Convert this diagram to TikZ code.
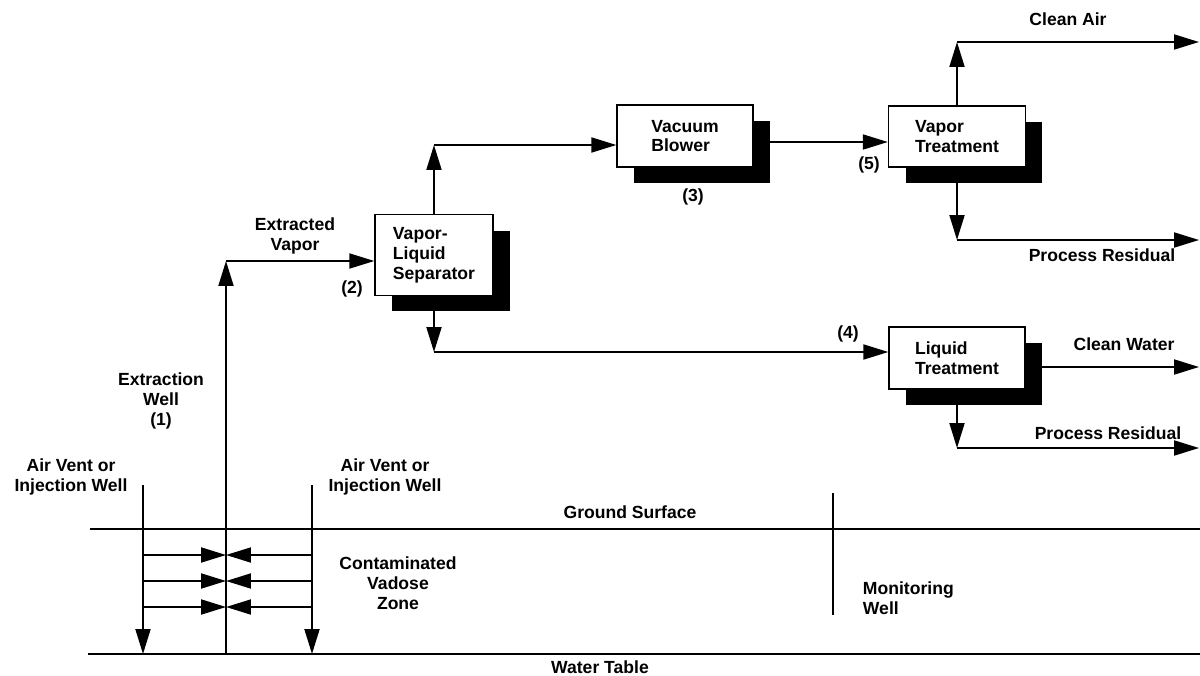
\documentclass[tikz,border=0pt]{standalone}
\usepackage{fontspec}
\setmainfont{Liberation Sans}
\usetikzlibrary{arrows.meta,shadows}
\begin{document}
\begin{tikzpicture}[x=0.02cm,y=-0.02cm,
  line width=1.1pt,
  every node/.style={font=\fontsize{10}{11.3}\selectfont\bfseries},
  lbl/.style={align=center, inner sep=0pt},
  lbll/.style={align=left, inner sep=0pt, anchor=west},
  box/.style={draw, line width=0.8pt, fill=white, align=left, inner sep=0pt,
    drop shadow={shadow xshift=0.34cm, shadow yshift=-0.32cm, fill=black, opacity=1}},
  arr/.style={-{Triangle[length=0.5cm,width=0.3cm]}}
]
\useasboundingbox (0,0) rectangle (1200,676);

% process boxes
\node[box, minimum width=2.36cm, minimum height=1.62cm] (sep) at (434,255) {Vapor-\\Liquid\\Separator};
\node[box, minimum width=2.72cm, minimum height=1.24cm] (blower) at (685,136) {Vacuum\\Blower};
\node[box, minimum width=2.74cm, minimum height=1.22cm] (vt) at (957,136.5) {Vapor\\Treatment};
\node[box, minimum width=2.72cm, minimum height=1.24cm] (lt) at (957,358) {Liquid\\Treatment};

% helper coordinates
\coordinate (y142) at (0,142);
\coordinate (y367) at (0,367);
\coordinate (ewtop) at (226,261);
\coordinate (ewbot) at (226,654);
\coordinate (c1) at (434,145);
\coordinate (c2) at (434,352);
\coordinate (c3) at (957,42);
\coordinate (c4) at (957,240);
\coordinate (c5) at (957,448);
\coordinate (caEnd) at (1199,42);
\coordinate (pr1End) at (1199,240);
\coordinate (cwEnd) at (1199,367);
\coordinate (pr2End) at (1199,448);

% extraction well and vapor path
\draw[arr] (ewbot) -- (ewtop);
\draw[arr] (ewtop) -- (ewtop -| sep.west);
\draw[arr] (sep.north) -- (c1);
\draw[arr] (c1) -- (c1 -| blower.west);
\draw[arr] (blower.east |- y142) -- (vt.west |- y142);
\draw[arr] (sep.south) -- (c2);
\draw[arr] (c2) -- (c2 -| lt.west);
\draw[arr] (vt.north) -- (c3);
\draw[arr] (c3) -- (caEnd);
\draw[arr] (vt.south) -- (c4);
\draw[arr] (c4) -- (pr1End);
\draw[arr] (lt.east |- y367) -- (cwEnd);
\draw[arr] (lt.south) -- (c5);
\draw[arr] (c5) -- (pr2End);

% ground and water table
\coordinate (gsL) at (90,529);
\coordinate (gsR) at (1200,529);
\coordinate (wtL) at (88,654);
\coordinate (wtR) at (1200,654);
\draw (gsL) -- (gsR);
\draw (wtL) -- (wtR);

% air vent wells
\coordinate (lvTop) at (143,485);
\coordinate (lvBot) at (143,654);
\coordinate (rvTop) at (312,485);
\coordinate (rvBot) at (312,654);
\draw[arr] (lvTop) -- (lvBot);
\draw[arr] (rvTop) -- (rvBot);
\foreach \yy [count=\i] in {555,581,607} {
  \coordinate (L\i) at (143,\yy);
  \coordinate (M\i) at (226,\yy);
  \coordinate (R\i) at (312,\yy);
  \draw[arr] (L\i) -- (M\i);
  \draw[arr] (R\i) -- (M\i);
}

% monitoring well
\coordinate (mwTop) at (833,493);
\coordinate (mwBot) at (833,615);
\draw (mwTop) -- (mwBot);

% labels
\node[lbl] (tClean) at (1068,19) {Clean Air};
\node[lbl] (tPR1) at (1102,255) {Process Residual};
\node[lbl] (tCW) at (1124,344) {Clean Water};
\node[lbl] (tPR2) at (1108,433) {Process Residual};
\node[lbl] (t4) at (848,334) {(4)};
\node[lbl] (t5) at (869,165) {(5)};
\node[lbl] (t3) at (693,197) {(3)};
\node[lbl] (t2) at (352,289) {(2)};
\node[lbl] (tEV) at (295,236) {Extracted\\Vapor};
\node[lbl] (tEW) at (161,401) {Extraction\\Well\\(1)};
\node[lbl] (tAV1) at (71,477) {Air Vent or\\Injection Well};
\node[lbl] (tAV2) at (385,477) {Air Vent or\\Injection Well};
\node[lbl] (tCVZ) at (398,583) {Contaminated\\Vadose\\Zone};
\node[lbl] (tGS) at (630,512) {Ground Surface};
\node[lbl] (tWT) at (600,667) {Water Table};
\node[lbll] (tMW) at (862,598) {Monitoring\\Well};
\end{tikzpicture}
\end{document}
